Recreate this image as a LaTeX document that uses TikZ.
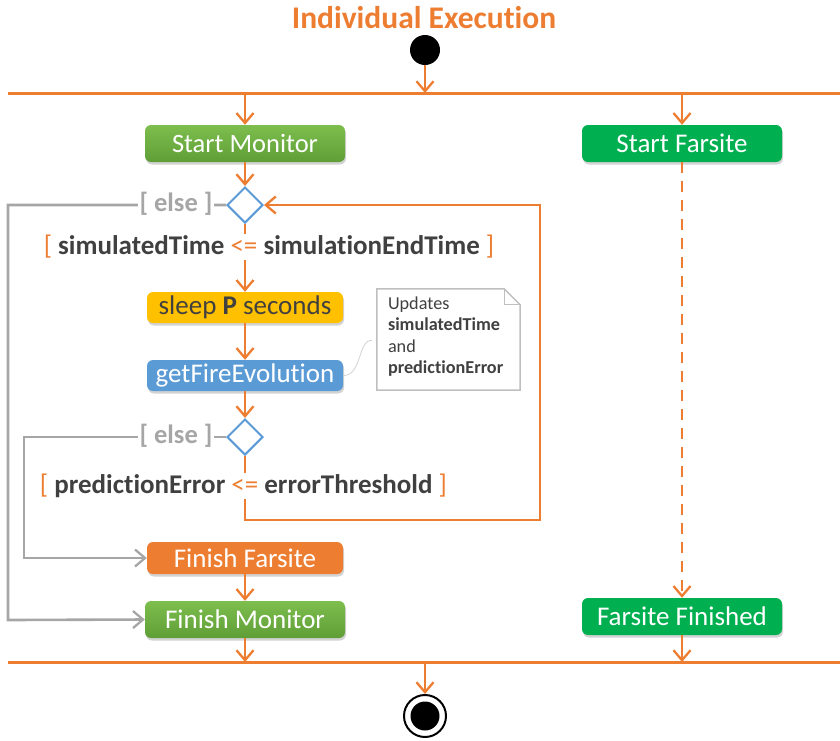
\documentclass[tikz,border=0pt]{standalone}
\usepackage{fontspec}
\setmainfont{Carlito}[Ligatures=NoCommon]
\usetikzlibrary{arrows.meta,shadows,shapes.geometric}
\definecolor{org}{HTML}{ED7D31}
\definecolor{grn}{HTML}{70AD47}
\definecolor{grnT}{HTML}{7DBE4E}
\definecolor{grnB}{HTML}{5F9E36}
\definecolor{grn2}{HTML}{00B050}
\definecolor{yel}{HTML}{FFC000}
\definecolor{blu}{HTML}{5B9BD5}
\definecolor{gry}{HTML}{A6A6A6}
\definecolor{dgry}{HTML}{404040}
\definecolor{ngry}{HTML}{BFBFBF}
\tikzset{
  flow/.style={draw=org, line width=2.6pt},
  arr/.style={-{Straight Barb[length=10pt,width=17pt,line width=2.3pt]}},
  grayflow/.style={draw=gry, line width=2.6pt},
  garr/.style={-{Straight Barb[length=10pt,width=17pt,line width=2.3pt]}},
  bar/.style={draw=org, line width=3pt},
  actbox/.style={rounded corners=6pt, minimum width=200pt, minimum height=37pt, inner sep=0pt,
    text=white, font=\fontsize{27}{31}\selectfont,
    drop shadow={opacity=0.35, shadow xshift=1pt, shadow yshift=-2.5pt}},
  smallbox/.style={actbox, minimum width=196pt, minimum height=31pt},
  greenbox/.style={actbox, top color=grnT, bottom color=grnB},
  decision/.style={diamond, draw=blu, fill=white, line width=2pt, minimum width=36pt, minimum height=36pt, inner sep=0pt},
  guard/.style={fill=white, inner sep=1pt, font=\bfseries\fontsize{27}{31}\selectfont, text=dgry},
  elsel/.style={fill=white, inner sep=2pt, font=\bfseries\fontsize{26.5}{30}\selectfont, text=gry},
  notetext/.style={font=\fontsize{18.2}{21.3}\selectfont, text=dgry, align=left},
}
\newcommand{\og}[1]{\textcolor{org}{\mdseries #1}}
\begin{document}
\begin{tikzpicture}[x=1pt,y=-1pt]
\useasboundingbox (0,0) rectangle (840,740);

% title
\node (title) at (424,18) [font=\bfseries\fontsize{31.5}{36}\selectfont, text=org] {Individual Execution};

% start / end
\node (start) at (425,50) [circle, fill=black, minimum size=30pt, inner sep=0pt] {};
\node (endo) at (425,716) [circle, draw=black, line width=2pt, fill=white, minimum size=42pt, inner sep=0pt] {};
\node (endi) at (425,716) [circle, fill=black, minimum size=29pt, inner sep=0pt] {};

% bars
\coordinate (b1L) at (8,93);
\coordinate (b1R) at (840,93);
\coordinate (b2L) at (8,662);
\coordinate (b2R) at (840,662);
\draw[bar] (b1L) -- (b1R);
\draw[bar] (b2L) -- (b2R);
\coordinate (f1) at (425,93);
\coordinate (f2) at (245,93);
\coordinate (f3) at (682,93);
\coordinate (j1) at (245,662);
\coordinate (j2) at (682,662);
\coordinate (j3) at (425,662);

% activities
\node (sm) at (245,143.5) [greenbox, font=\fontsize{26.5}{31}\selectfont] {Start Monitor};
\node (sf) at (682,143.5) [actbox, fill=grn2] {Start Farsite};
\node (d1) at (245,205) [decision] {};
\node (sl) at (245,307.5) [smallbox, fill=yel, text=dgry] {sleep \textbf{P} seconds};
\node (gf) at (245,375.5) [smallbox, fill=blu] {getFireEvolution};
\node (d2) at (245,437) [decision] {};
\node (ff) at (245,558) [smallbox, fill=org, minimum height=32pt] {Finish Farsite};
\node (fm) at (245,619.5) [greenbox] {Finish Monitor};
\node (fin) at (682,616.5) [actbox, fill=grn2] {Farsite Finished};

% note
\node (note) at (448.5,339.5) [minimum width=143pt, minimum height=101pt, inner sep=0pt] {};
\draw[draw=ngry, line width=1.5pt, fill=white]
  (note.north west) -- ([xshift=-16pt]note.north east) -- ([yshift=-16pt]note.north east)
  -- (note.south east) -- (note.south west) -- cycle;
\draw[draw=ngry, line width=1.2pt] ([xshift=-16pt]note.north east) -- ([xshift=-16pt,yshift=-16pt]note.north east) -- ([yshift=-16pt]note.north east);
\node (notetxt) at ([xshift=11pt,yshift=-8pt]note.north west) [anchor=north west, notetext, inner sep=0pt]
  {Updates\\\textbf{simulatedTime}\\and\\\textbf{predictionError}};
\coordinate (noteend) at ([xshift=-5pt,yshift=-1pt]note.west);
\draw[draw=ngry!70, line width=0.8pt] (gf.east) .. controls (362,376) and (358,339) .. (noteend);

% orange flows
\draw[flow, arr] (start) -- (f1);
\draw[flow, arr] (f2) -- (sm);
\draw[flow, arr] (f3) -- (sf);
\draw[flow, arr] (sm) -- (d1);
\draw[flow, arr] (d1) -- (sl);
\draw[flow, arr] (sl) -- (gf);
\draw[flow, arr] (gf) -- (d2);
\draw[flow, arr] (d2.south) -- (245,520) -- (540,520) -- (540,205) -- (d1.east);
\draw[flow, arr] (ff) -- (fm);
\draw[flow, arr] (fm) -- (j1);
\draw[flow, arr] (fin) -- (j2);
\draw[flow, arr] (j3) -- (endo);
\draw[flow, arr, dash pattern=on 11pt off 8pt] (sf) -- (fin);

% gray flows
\draw[grayflow, garr] (d1.west) -- (8,205) -- (8,620) -- (fm.west);
\draw[grayflow, garr] (d2.west) -- (24,437) -- (24,558) -- (ff.west);
\node (e1) at (176,204) [elsel] {[ else ]};
\node (e2) at (176,436) [elsel] {[ else ]};

% guards
\node (g1) at (269,247) [guard] {\og{[} simulatedTime \og{<=} simulationEndTime \og{]}};
\node (g2) at (243.5,486) [guard] {\og{[} predictionError \og{<=} errorThreshold \og{]}};
\end{tikzpicture}
\end{document}
